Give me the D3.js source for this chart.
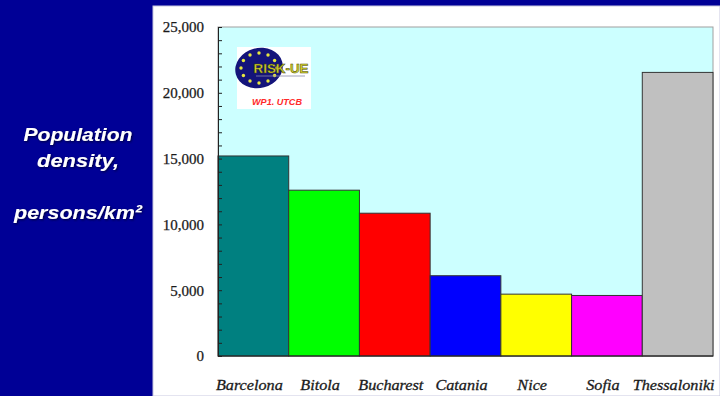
<!DOCTYPE html>
<html>
<head>
<meta charset="utf-8">
<script src="https://cdn.jsdelivr.net/npm/d3@7"></script>
<style>
  html, body { margin: 0; padding: 0; background: #000096; overflow: hidden; }
  svg { display: block; }
</style>
</head>
<body>
<svg id="chart" width="720" height="396"></svg>
<script>
// Population density by city (persons per km²)
const cities = ["Barcelona", "Bitola", "Bucharest", "Catania", "Nice", "Sofia", "Thessaloniki"];
const density = [15200, 12600, 10850, 6100, 4700, 4600, 21550];
const barColors = ["#008080", "#00ff00", "#ff0000", "#0000ff", "#ffff00", "#ff00ff", "#c0c0c0"];
const majorTicks = [0, 5000, 10000, 15000, 20000, 25000];
const titleLines = ["Population", "density,", "", "persons/km²"];

const svg = d3.select("#chart");

// Slide backdrop: navy frame with a white chart panel
svg.append("rect").attr("x", 0).attr("y", 0).attr("width", 720).attr("height", 396).attr("fill", "#000096");
svg.append("rect").attr("x", 153).attr("y", 6).attr("width", 567).attr("height", 390)
  .attr("fill", "#ffffff").attr("stroke", "#c8c8e0").attr("stroke-width", 1);

const plot = { left: 218, right: 713, top: 27, bottom: 356 };

const x = d3.scaleBand().domain(cities).range([plot.left, plot.right]).padding(0);
const y = d3.scaleLinear().domain([0, 25000]).range([plot.bottom, plot.top]);

// Plot area background
svg.append("rect")
  .attr("x", plot.left).attr("y", plot.top)
  .attr("width", plot.right - plot.left).attr("height", plot.bottom - plot.top)
  .attr("fill", "#ccffff").attr("stroke", "#a0a0a0").attr("stroke-width", 1);

// Bars
svg.append("g").selectAll("rect").data(cities).join("rect")
  .attr("x", d => x(d))
  .attr("y", (d, i) => y(density[i]))
  .attr("width", x.bandwidth())
  .attr("height", (d, i) => y(0) - y(density[i]))
  .attr("fill", (d, i) => barColors[i])
  .attr("stroke", "#333333")
  .attr("stroke-width", 1);

// Y axis: minor ticks every 1,000, labels every 5,000
const yAxis = d3.axisLeft(y)
  .tickValues(d3.range(0, 25001, 1000))
  .tickSize(-4)
  .tickPadding(14)
  .tickFormat(v => majorTicks.includes(v) ? d3.format(",")(v) : "");
const gy = svg.append("g").attr("transform", `translate(${plot.left},0)`).call(yAxis);
gy.select(".domain").attr("stroke", "#222");
gy.selectAll(".tick line").attr("stroke", "#222");
gy.selectAll(".tick text")
  .attr("fill", "#1a1a1a")
  .attr("stroke", "#1a1a1a").attr("stroke-width", 0.25)
  .style("font-family", "'Liberation Serif', 'Times New Roman', serif")
  .style("font-size", "15px");

// X baseline
svg.append("line")
  .attr("x1", plot.left).attr("x2", plot.right)
  .attr("y1", y(0)).attr("y2", y(0))
  .attr("stroke", "#222").attr("stroke-width", 1);

// Category labels
const xl = svg.append("g").selectAll("text").data(cities).join("text")
  .attr("x", d => x(d) + x.bandwidth() / 2 - 4)
  .attr("y", 390)
  .attr("text-anchor", "middle")
  .attr("fill", "#1a1a1a")
  .attr("stroke", "#1a1a1a").attr("stroke-width", 0.3)
  .style("font-family", "'Liberation Serif', 'Times New Roman', serif")
  .style("font-style", "italic")
  .style("font-size", "15px")
  .text(d => d);
xl.each(function () {
  const w = this.getComputedTextLength();
  d3.select(this).attr("textLength", w * 1.08).attr("lengthAdjust", "spacingAndGlyphs");
});

// Project logo in the upper-left of the plot
const logo = svg.append("g");
logo.append("rect").attr("x", 237).attr("y", 47).attr("width", 74).attr("height", 62).attr("fill", "#ffffff");
logo.append("ellipse").attr("cx", 259).attr("cy", 68).attr("rx", 24).attr("ry", 20)
  .attr("transform", "rotate(-15,259,68)").attr("fill", "#14147a");
const starAngles = d3.range(0, 360, 30);
logo.selectAll("circle.star").data(starAngles).join("circle")
  .attr("class", "star")
  .attr("cx", a => 259 + 18 * Math.cos(a * Math.PI / 180))
  .attr("cy", a => 68 + 15 * Math.sin(a * Math.PI / 180))
  .attr("r", 1.7)
  .attr("fill", "#e8e840");
logo.append("text").attr("x", 281).attr("y", 73).attr("text-anchor", "middle")
  .style("font-family", "'Liberation Sans', Arial, sans-serif")
  .style("font-weight", "bold").style("font-size", "13px")
  .attr("fill", "#d8d830").attr("stroke", "#444400").attr("stroke-width", 0.5)
  .attr("textLength", 55).attr("lengthAdjust", "spacingAndGlyphs")
  .text("RISK-UE");
logo.append("line").attr("x1", 256).attr("x2", 305).attr("y1", 76).attr("y2", 76)
  .attr("stroke", "#8888aa").attr("stroke-width", 0.8);
logo.append("text").attr("x", 277).attr("y", 105).attr("text-anchor", "middle")
  .style("font-family", "'Liberation Sans', Arial, sans-serif")
  .style("font-weight", "bold").style("font-style", "italic").style("font-size", "9px")
  .attr("fill", "#ff2a2a")
  .attr("textLength", 50).attr("lengthAdjust", "spacingAndGlyphs")
  .text("WP1. UTCB");

// Axis title on the navy margin
const defs = svg.append("defs");
const f = defs.append("filter").attr("id", "shadow").attr("x", "-10%").attr("y", "-30%")
  .attr("width", "130%").attr("height", "160%");
f.append("feDropShadow").attr("dx", 1).attr("dy", 1).attr("stdDeviation", 0.8)
  .attr("flood-color", "#000030").attr("flood-opacity", 0.9);

const titleWidths = [109, 82, 0, 128];
svg.append("g").attr("filter", "url(#shadow)")
  .selectAll("text").data(titleLines).join("text")
  .attr("x", 78)
  .attr("y", (d, i) => 141 + i * 26)
  .attr("text-anchor", "middle")
  .attr("fill", "#ffffff")
  .style("font-family", "'Liberation Sans', Arial, sans-serif")
  .style("font-weight", "bold")
  .style("font-style", "italic")
  .style("font-size", "19px")
  .each(function (d, i) {
    if (titleWidths[i]) d3.select(this).attr("textLength", titleWidths[i]).attr("lengthAdjust", "spacingAndGlyphs");
  })
  .text(d => d);
</script>
</body>
</html>
